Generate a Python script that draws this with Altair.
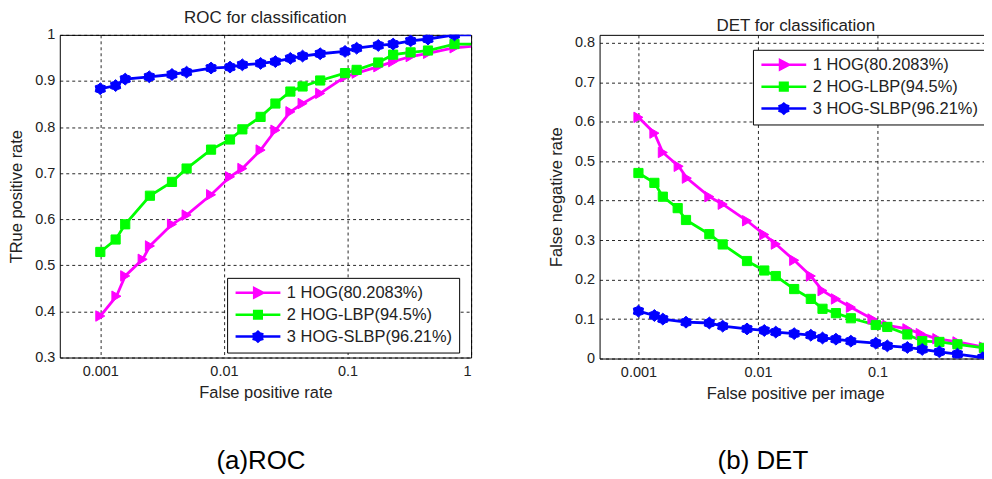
import altair as alt
import pandas as pd

FONT = "Liberation Sans"

series = ["1 HOG(80.2083%)", "2 HOG-LBP(94.5%)", "3 HOG-SLBP(96.21%)"]
colors = ["#FF00FF", "#00FF00", "#0000FF"]

# ROC curves (false positive rate, true positive rate)
roc_hog_x = [0.001, 0.00135, 0.00159, 0.0022, 0.00252, 0.0038, 0.00499, 0.00787, 0.0112, 0.0141, 0.0198,
             0.0261, 0.0345, 0.0433, 0.0601, 0.0955, 0.1186, 0.1774, 0.234, 0.324, 0.448, 0.734, 1.0]
roc_hog_y = [0.390, 0.433, 0.477, 0.513, 0.542, 0.589, 0.609, 0.653, 0.692, 0.710, 0.750,
             0.793, 0.833, 0.851, 0.873, 0.909, 0.917, 0.931, 0.942, 0.953, 0.960, 0.972, 0.975]
roc_lbp_x = [0.001, 0.00133, 0.00159, 0.00252, 0.0038, 0.00499, 0.00787, 0.0112, 0.0141, 0.0198, 0.0261,
             0.0345, 0.0433, 0.0601, 0.0955, 0.1186, 0.1774, 0.234, 0.324, 0.448, 0.734, 1.0]
roc_lbp_y = [0.529, 0.556, 0.589, 0.651, 0.681, 0.710, 0.751, 0.773, 0.795, 0.822, 0.851,
             0.877, 0.888, 0.901, 0.917, 0.924, 0.940, 0.957, 0.962, 0.966, 0.980, 0.980]
roc_slbp_x = [0.001, 0.00133, 0.00159, 0.00249, 0.0038, 0.00499, 0.00787, 0.0112, 0.0141, 0.0198, 0.0261,
              0.0345, 0.0433, 0.0601, 0.0955, 0.1186, 0.1774, 0.234, 0.324, 0.448, 0.734, 1.0]
roc_slbp_y = [0.883, 0.890, 0.904, 0.909, 0.914, 0.919, 0.928, 0.930, 0.935, 0.938, 0.942,
              0.949, 0.954, 0.959, 0.964, 0.971, 0.977, 0.980, 0.987, 0.991, 1.000, 1.000]

# DET curves (false positive per image, false negative rate)
det_hog_x = [0.001, 0.00136, 0.0016, 0.00217, 0.00254, 0.00392, 0.00507, 0.0081, 0.0113, 0.0141, 0.0201,
             0.0277, 0.0347, 0.0449, 0.0599, 0.0908, 0.121, 0.178, 0.230, 0.317, 0.467, 0.778, 1.0]
det_hog_y = [0.611, 0.571, 0.522, 0.487, 0.457, 0.410, 0.391, 0.349, 0.314, 0.290, 0.249,
             0.209, 0.172, 0.151, 0.130, 0.100, 0.084, 0.075, 0.063, 0.050, 0.042, 0.029, 0.025]
det_lbp_x = [0.001, 0.00136, 0.0016, 0.00213, 0.0025, 0.00392, 0.00507, 0.0081, 0.0113, 0.0141, 0.0201,
             0.0277, 0.0347, 0.0449, 0.0599, 0.0968, 0.121, 0.178, 0.237, 0.330, 0.467, 0.778, 1.0]
det_lbp_y = [0.470, 0.445, 0.410, 0.381, 0.351, 0.315, 0.289, 0.247, 0.223, 0.209, 0.176,
             0.151, 0.126, 0.115, 0.102, 0.085, 0.080, 0.061, 0.044, 0.042, 0.036, 0.027, 0.021]
det_slbp_x = [0.001, 0.00136, 0.0016, 0.0025, 0.00392, 0.00507, 0.0081, 0.0113, 0.0141, 0.0201, 0.0277,
              0.0347, 0.0449, 0.0599, 0.0968, 0.121, 0.178, 0.237, 0.330, 0.467, 0.76, 1.0]
det_slbp_y = [0.120, 0.109, 0.100, 0.092, 0.090, 0.082, 0.075, 0.071, 0.067, 0.063, 0.059,
              0.052, 0.049, 0.044, 0.039, 0.032, 0.028, 0.023, 0.017, 0.011, 0.002, 0.000]

roc_x_ticks = [0.001, 0.01, 0.1, 1]
det_x_ticks = [0.001, 0.01, 0.1]
roc_y_ticks = [0.3, 0.4, 0.5, 0.6, 0.7, 0.8, 0.9, 1.0]
det_y_ticks = [0.0, 0.1, 0.2, 0.3, 0.4, 0.5, 0.6, 0.7, 0.8]


def frame(xs, ys, name):
    return pd.DataFrame({"x": xs, "y": ys, "series": name})


roc_df = pd.concat([frame(roc_hog_x, roc_hog_y, series[0]),
                    frame(roc_lbp_x, roc_lbp_y, series[1]),
                    frame(roc_slbp_x, roc_slbp_y, series[2])], ignore_index=True)
det_df = pd.concat([frame(det_hog_x, det_hog_y, series[0]),
                    frame(det_lbp_x, det_lbp_y, series[1]),
                    frame(det_slbp_x, det_slbp_y, series[2])], ignore_index=True)

# marker shapes (blobby six-point star like MATLAB's hexagram)
HEX = [(0, -1), (0.38, -0.66), (0.866, -0.5), (0.76, 0), (0.866, 0.5), (0.38, 0.66),
       (0, 1), (-0.38, 0.66), (-0.866, 0.5), (-0.76, 0), (-0.866, -0.5), (-0.38, -0.66)]


def poly(pts, k):
    return "M" + "L".join(f"{px * k:.3f},{py * k:.3f}" for px, py in pts) + "Z"


hexagram = poly(HEX, 1.0)
marker_shapes = ["triangle-right", "square", hexagram]
marker_sizes = [110, 85, 140]
legend_paths = [
    "M-1,0L1,0" + poly([(-0.17, -0.21), (0.23, 0), (-0.17, 0.21)], 1.0),
    "M-1,0L1,0" + poly([(-0.17, -0.17), (0.17, -0.17), (0.17, 0.17), (-0.17, 0.17)], 1.0),
    "M-1,0L1,0" + poly(HEX, 0.22),
]


def text_layer(txt, size, px, py, col):
    return (
        alt.Chart(pd.DataFrame({"t": [txt]}))
        .mark_text(font=FONT, fontSize=size, color=col, align="center", baseline="alphabetic")
        .encode(text="t:N", x=alt.value(px), y=alt.value(py))
    )


def panel(df, xdomain, xticks, ydomain, yticks, xtitle, ytitle, w, h, legend_pos, texts):
    base = alt.Chart(df)
    x = alt.X("x:Q", scale=alt.Scale(type="log", domain=xdomain, nice=False),
              axis=alt.Axis(values=xticks, labelExpr="format(datum.value, '~g')", title=xtitle,
                            labelPadding=7, titlePadding=7))
    y = alt.Y("y:Q", scale=alt.Scale(domain=ydomain, nice=False, zero=False),
              axis=alt.Axis(values=yticks, labelExpr="format(datum.value, '~g')", title=ytitle,
                            labelPadding=5, titlePadding=10))
    lines, pts = [], []
    for name, col, shp, sz in zip(series, colors, marker_shapes, marker_sizes):
        sub = base.transform_filter(alt.datum.series == name)
        lines.append(sub.mark_line(color=col, strokeWidth=2.8, clip=True).encode(x=x, y=y))
        pts.append(
            sub.transform_filter("datum.x < 0.99")
            .mark_point(shape=shp, size=sz, filled=True, fill=col, stroke=col, strokeWidth=1,
                        opacity=1, clip=True)
            .encode(x=x, y=y)
        )
    leg = alt.Legend(symbolSize=2025, symbolStrokeWidth=2.5, symbolOpacity=1,
                     labelFontSize=16.5, labelFont=FONT, labelColor="#222", labelLimit=400,
                     labelOffset=5, padding=7, rowPadding=5, clipHeight=16,
                     strokeColor="black", fillColor="white", **legend_pos)
    legend_layer = (
        base.mark_point(filled=True, opacity=0, clip=True)
        .encode(
            x=x, y=y,
            fill=alt.Fill("series:N", scale=alt.Scale(domain=series, range=colors), legend=leg, title=None),
            stroke=alt.Stroke("series:N", scale=alt.Scale(domain=series, range=colors), legend=leg, title=None),
            shape=alt.Shape("series:N", scale=alt.Scale(domain=series, range=legend_paths), legend=leg, title=None),
        )
    )
    labels = [text_layer(*t) for t in texts]
    return alt.layer(*lines, *pts, legend_layer, *labels).properties(width=w, height=h)


indep = dict(fill="independent", stroke="independent", shape="independent")

left = panel(roc_df, [0.00047, 1.0], roc_x_ticks, [0.3, 1.0], roc_y_ticks, "False positive rate",
             "TRue positive rate", 413, 324, dict(orient="none", legendX=168, legendY=244),
             [("(a)ROC", 26, 202, 436, "black")]).properties(
    title=alt.TitleParams("ROC for classification", offset=0))

right = panel(det_df, [0.000473, 0.891], det_x_ticks, [0.0, 0.82], det_y_ticks, "False positive per image",
              "False negative rate", 393, 325, dict(orient="none", legendX=154, legendY=15),
              [("(b) DET", 26, 164, 436, "black"),
               ("DET for classification", 17, 197, -4, "#222")])

chart = (
    alt.hconcat(left, right, spacing=76)
    .resolve_scale(**indep)
    .resolve_legend(**indep)
    .properties(padding={"left": 0, "top": -1, "right": -8, "bottom": 0})
    .configure(font=FONT)
    .configure_view(stroke="black", strokeWidth=1)
    .configure_axis(
        labelFont=FONT, titleFont=FONT, labelFontSize=14.5, titleFontSize=16.5,
        titleFontWeight="normal", labelColor="#222", titleColor="#222",
        grid=True, gridDash=[3, 3], gridColor="black", gridOpacity=0.85, gridWidth=1,
        ticks=False, domain=False,
    )
    .configure_title(font=FONT, fontSize=17, fontWeight="normal", color="#222", anchor="middle")
)

chart.save("out.html", embed_options={"renderer": "svg", "actions": False})
